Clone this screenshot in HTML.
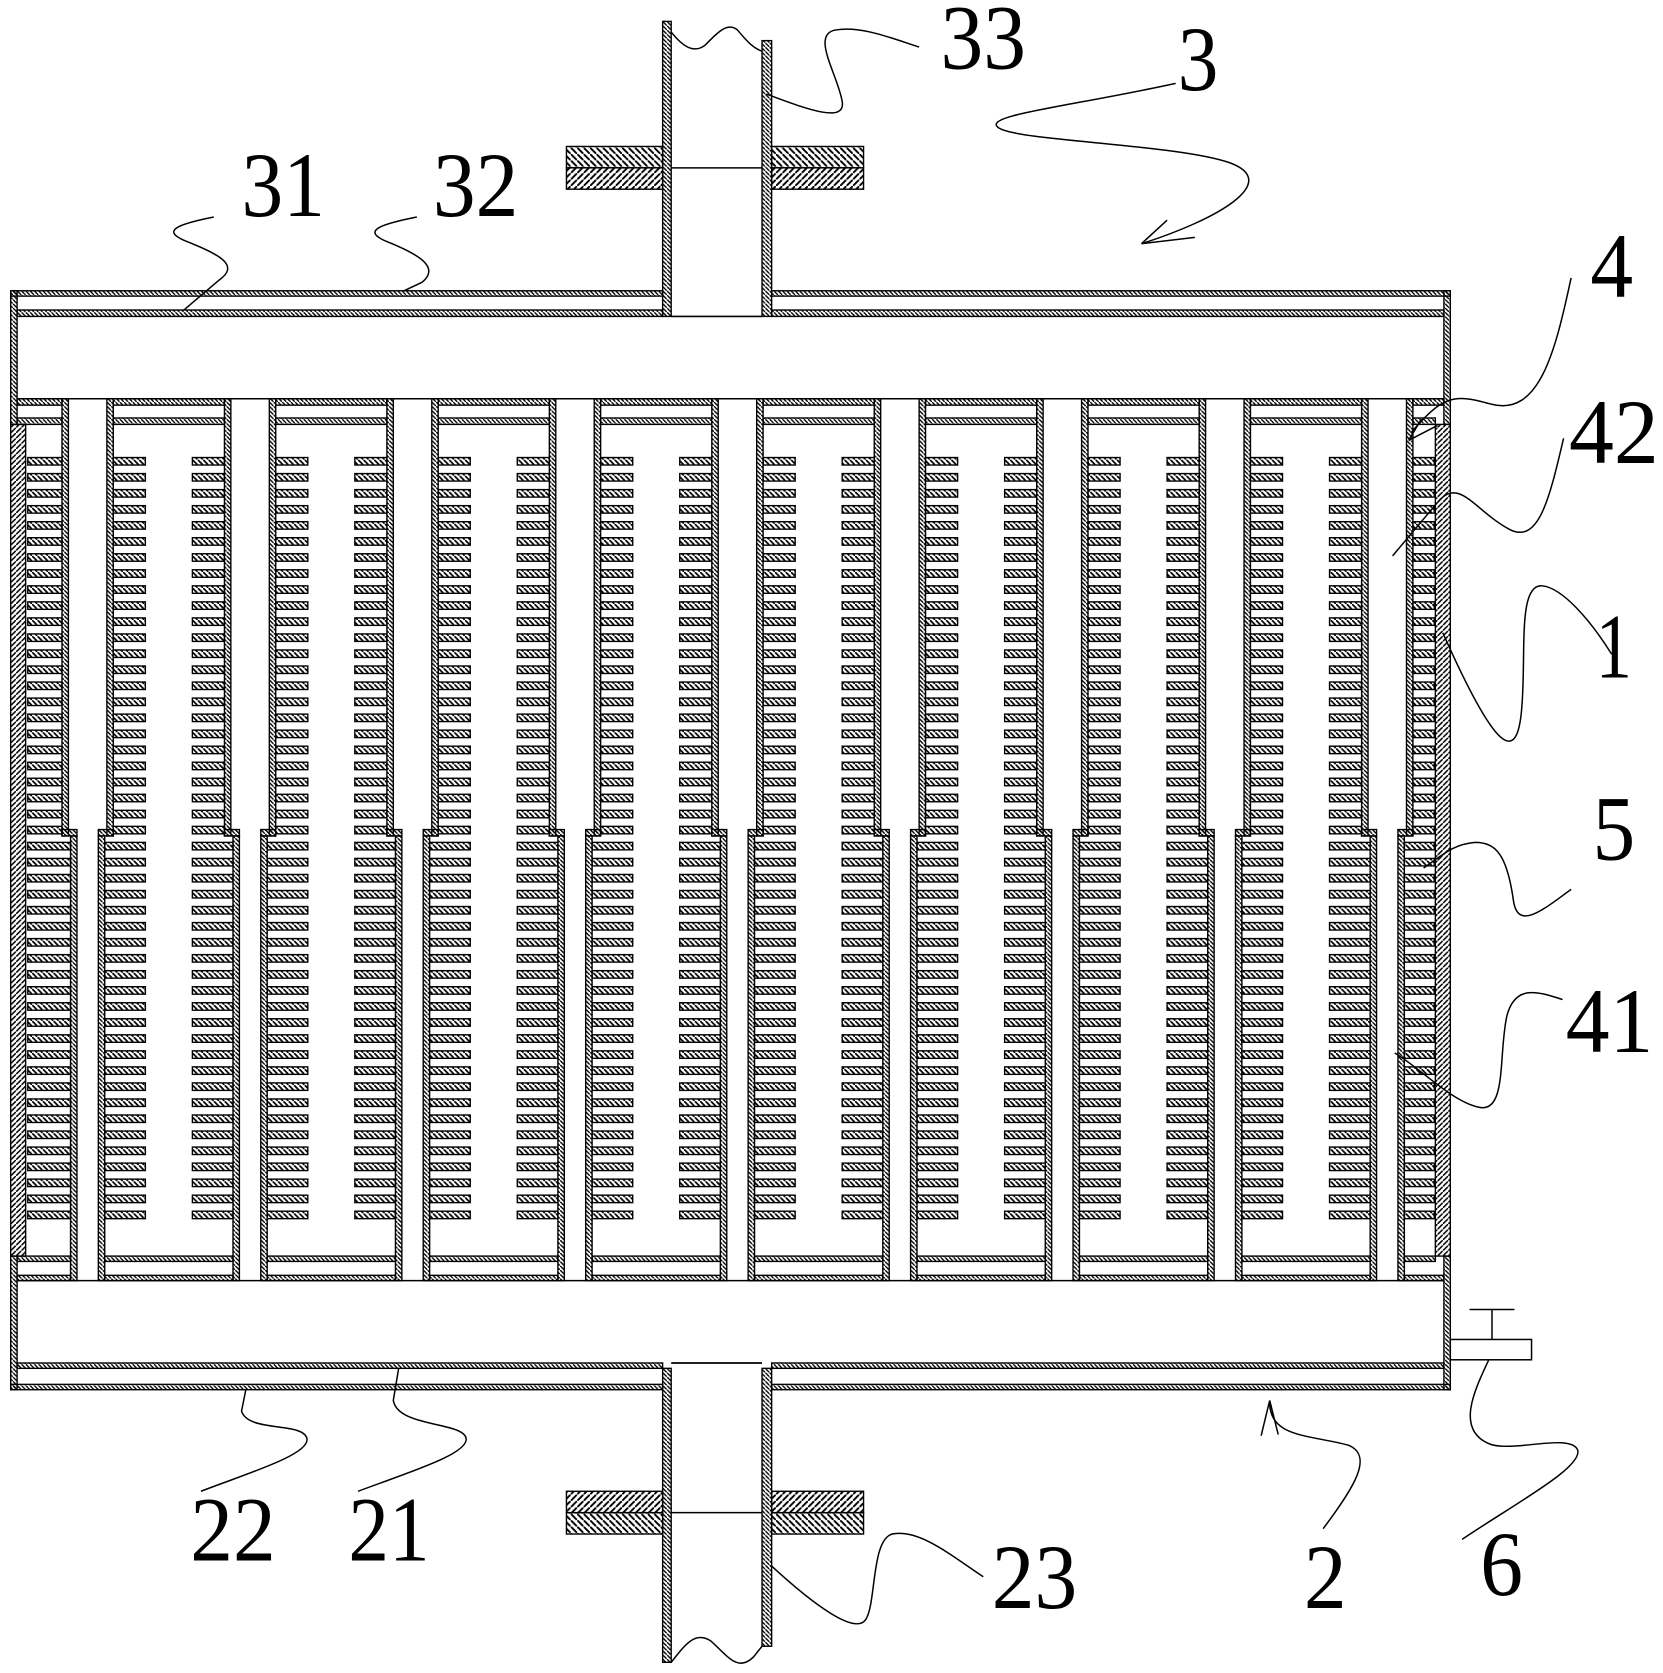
<!DOCTYPE html>
<html><head><meta charset="utf-8"><style>html,body{margin:0;padding:0;background:#fff}svg{display:block}</style></head>
<body>
<svg id="s" width="1663" height="1673" viewBox="0 0 1556 1565" preserveAspectRatio="none" xmlns="http://www.w3.org/2000/svg">
<defs>
<pattern id="hb" patternUnits="userSpaceOnUse" width="4" height="4"><path d="M-1,-1 L5,5" stroke="#000" stroke-width="1.3"/></pattern>
<pattern id="hf" patternUnits="userSpaceOnUse" width="5" height="5"><path d="M-1,-1 L6,6" stroke="#000" stroke-width="1.6"/></pattern>
<pattern id="hs" patternUnits="userSpaceOnUse" width="5" height="5"><path d="M-1,6 L6,-1" stroke="#000" stroke-width="1.4"/></pattern>
<pattern id="hfl1" patternUnits="userSpaceOnUse" width="6" height="6"><path d="M-1,-1 L7,7" stroke="#000" stroke-width="1.8"/></pattern>
<pattern id="hfl2" patternUnits="userSpaceOnUse" width="6" height="6"><path d="M-1,7 L7,-1" stroke="#000" stroke-width="1.8"/></pattern>
</defs>
<g id="g" stroke="#000" stroke-width="1.3"></g>
<g fill="none" stroke="#000" stroke-width="1.4">
<path d="M628,30 C640,45 650,50 660,42 C670,32 680,20 690,28 C700,40 705,45 713,48" />
<path d="M628,296 L713,296" stroke-width="1.6"/>
<path d="M628,157 L713,157"/>
<path d="M16,373 L1351,373 M16,1198 L1351,1198" stroke-width="1.4"/>
<path d="M628,1555 C640,1540 650,1525 665,1535 C680,1548 690,1565 705,1550 L713,1540"/>
<path d="M628,1415 L713,1415"/>
<path d="M628,1275 L713,1275" stroke-width="1.6"/>
<rect x="1357" y="1253" width="76" height="19" fill="#fff"/>
<path d="M1396,1253 L1396,1225 M1375,1225 L1417,1225"/>
<path d="M717,88 C745,98 792,118 788,95 C784,70 758,32 782,28 C806,24 835,36 860,44"/>
<path d="M1100,78 C1000,100 915,108 935,120 C955,132 1100,135 1150,152 C1200,170 1140,205 1068,228 M1068,228 L1092,206 M1068,228 L1118,222"/>
<path d="M200,203 C165,210 150,216 175,226 C205,238 225,248 205,262 L172,290"/>
<path d="M390,203 C355,210 338,216 362,226 C392,238 412,250 395,264 L378,272"/>
<path d="M1470,260 C1455,330 1440,390 1395,378 C1360,368 1350,370 1320,405 M1318,412 L1345,398 M1318,412 L1330,392"/>
<path d="M1463,410 C1450,465 1440,510 1412,495 C1380,478 1365,445 1345,470 L1303,520"/>
<path d="M1508,612 C1488,580 1462,550 1443,548 C1420,546 1428,610 1424,660 C1420,720 1398,700 1350,592"/>
<path d="M1470,832 C1445,850 1420,872 1416,842 C1410,800 1400,788 1380,788 C1360,790 1352,798 1332,812"/>
<path d="M1462,935 C1440,928 1418,920 1410,950 C1402,985 1410,1040 1385,1036 C1360,1032 1330,1000 1305,985"/>
<path d="M188,1395 C232,1378 292,1360 287,1345 C282,1330 232,1340 226,1320 L230,1300"/>
<path d="M335,1395 C380,1378 440,1360 436,1345 C432,1330 372,1335 368,1310 L373,1280"/>
<path d="M920,1475 C890,1455 860,1430 835,1435 C815,1440 820,1500 810,1515 C800,1530 760,1500 722,1465"/>
<path d="M1238,1430 C1268,1390 1285,1362 1262,1352 C1225,1342 1188,1345 1188,1312 M1188,1310 L1180,1343 M1188,1310 L1196,1342"/>
<path d="M1368,1440 C1420,1405 1482,1372 1476,1356 C1468,1340 1412,1360 1392,1350 C1362,1336 1380,1300 1393,1272"/>
</g>
<g font-family="'Liberation Serif', serif" font-size="86" fill="#000">
<text x="880" y="64" textLength="80" lengthAdjust="spacingAndGlyphs">33</text>
<text x="1102" y="84" textLength="38" lengthAdjust="spacingAndGlyphs">3</text>
<text x="226" y="202" textLength="78" lengthAdjust="spacingAndGlyphs">31</text>
<text x="405" y="202" textLength="80" lengthAdjust="spacingAndGlyphs">32</text>
<text x="1488" y="278" textLength="40" lengthAdjust="spacingAndGlyphs">4</text>
<text x="1468" y="433" textLength="84" lengthAdjust="spacingAndGlyphs">42</text>
<text x="1493" y="634" textLength="34" lengthAdjust="spacingAndGlyphs">1</text>
<text x="1490" y="804" textLength="40" lengthAdjust="spacingAndGlyphs">5</text>
<text x="1465" y="984" textLength="82" lengthAdjust="spacingAndGlyphs">41</text>
<text x="178" y="1460" textLength="80" lengthAdjust="spacingAndGlyphs">22</text>
<text x="326" y="1460" textLength="76" lengthAdjust="spacingAndGlyphs">21</text>
<text x="928" y="1504" textLength="80" lengthAdjust="spacingAndGlyphs">23</text>
<text x="1220" y="1504" textLength="40" lengthAdjust="spacingAndGlyphs">2</text>
<text x="1385" y="1492" textLength="40" lengthAdjust="spacingAndGlyphs">6</text>
</g>
</svg>
<script>
(function(){
var g=document.getElementById('g'),NS='http://www.w3.org/2000/svg';
function R(x,y,w,h,f){var r=document.createElementNS(NS,'rect');r.setAttribute('x',x);r.setAttribute('y',y);r.setAttribute('width',w);r.setAttribute('height',h);r.setAttribute('fill',f||'url(#hb)');g.appendChild(r);}
function HP(y1,h,x1,x2,gaps){var x=x1;gaps.forEach(function(gp){if(gp[0]>x)R(x,y1,gp[0]-x,h);x=gp[1];});if(x2>x)R(x,y1,x2-x,h);}
HP(272,5,10,1357,[[620,722]]);
HP(290,6,16,1351,[[620,722]]);
R(10,272,6,125);R(1351,272,6,125);
R(620,20,8,276);R(713,38,9,258);
R(530,137,90,20,'url(#hfl1)');R(722,137,86,20,'url(#hfl1)');
R(530,157,90,20,'url(#hfl2)');R(722,157,86,20,'url(#hfl2)');
R(620,1280,8,275);R(713,1280,9,260);
R(530,1395,90,20,'url(#hfl2)');R(722,1395,86,20,'url(#hfl2)');
R(530,1415,90,20,'url(#hfl1)');R(722,1415,86,20,'url(#hfl1)');
var tubesTop=[],tubesBot=[];
for(var i=0;i<9;i++){var x0=58+152*i;tubesTop.push([x0,x0+48]);tubesBot.push([x0+8,x0+40]);}
HP(373,6,16,1351,tubesTop);
HP(391,6,16,1343,tubesTop);
HP(1175,5,16,1343,tubesBot);
HP(1193,5,16,1351,tubesBot);
HP(1275,5,16,1351,[[620,722]]);
HP(1295,5,10,1357,[[620,722]]);
R(10,1175,6,125);R(1351,1175,6,125);
R(10,397,14,778,'url(#hs)');R(1343,397,14,778,'url(#hs)');
for(var i=0;i<9;i++){var x0=58+152*i;
  for(var y=428;y<=1140;y+=15){
    var up=y<782;
    var lx1=(i==0)?26:x0-30;
    R(lx1,y,(up?x0:x0+8)-lx1,7,'url(#hf)');
    var rx2=(i==8)?1342:x0+78;
    R(up?x0+48:x0+40,y,rx2-(up?x0+48:x0+40),7,'url(#hf)');
  }
  R(x0,373,6,409);R(x0+42,373,6,409);
  R(x0,776,14,6);R(x0+34,776,14,6);
  R(x0+8,782,6,416);R(x0+34,782,6,416);
}
})();
</script>
</body></html>
